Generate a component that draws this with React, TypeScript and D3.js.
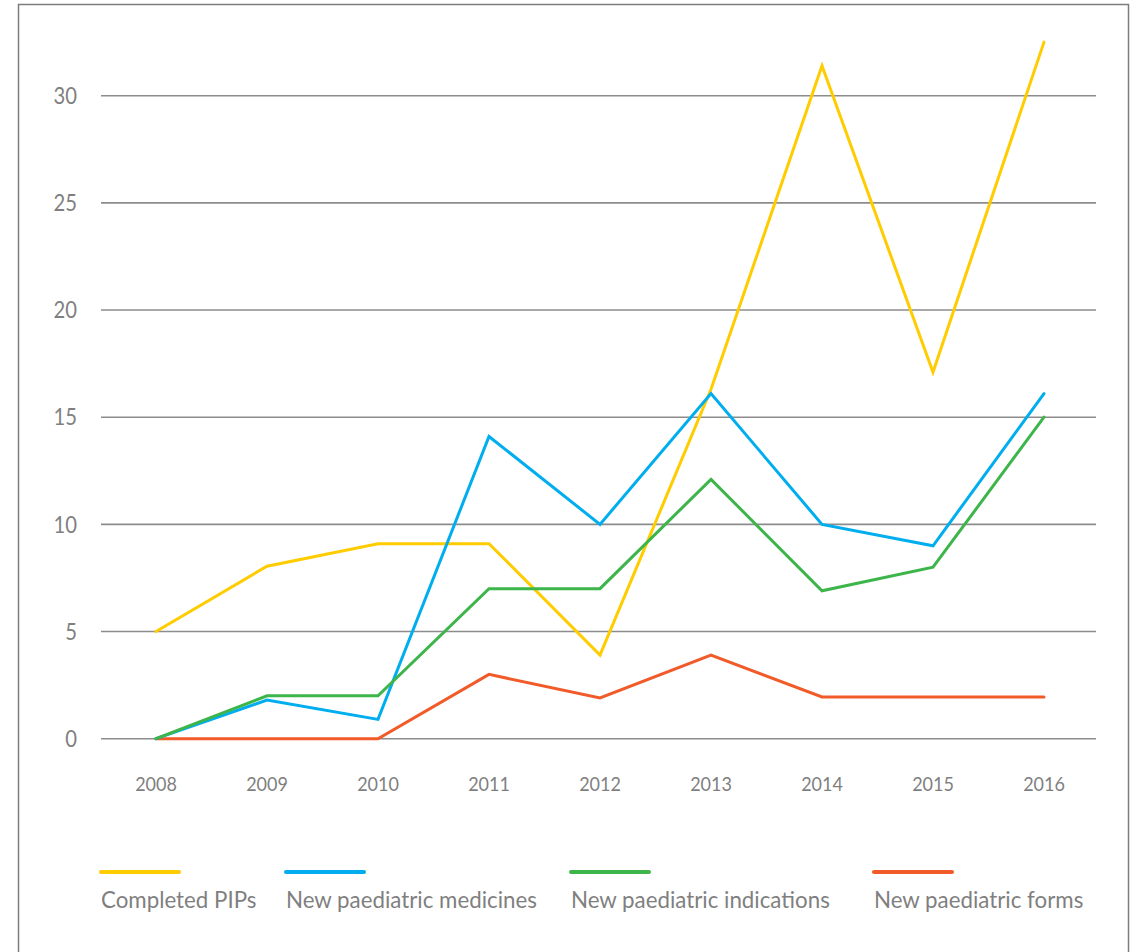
import React, { useRef, useEffect } from 'react';
import * as d3 from 'd3';

const years = ['2008', '2009', '2010', '2011', '2012', '2013', '2014', '2015', '2016'];
const yTicks = [0, 5, 10, 15, 20, 25, 30];

const completedPips = [5, 8.05, 9.1, 9.1, 3.9, 16.3, 31.4, 17.1, 32.5];
const newMedicines = [0, 1.8, 0.9, 14.1, 10, 16.1, 10, 9, 16.1];
const newIndications = [0, 2, 2, 7, 7, 12.1, 6.9, 8, 15];
const newForms = [0, 0, 0, 3, 1.9, 3.9, 1.95, 1.95, 1.95];

const seriesNames = ['Completed PIPs', 'New paediatric medicines', 'New paediatric indications', 'New paediatric forms'];
const seriesColors = ['#ffcc00', '#00aeef', '#3db54a', '#f15a29'];

const W = 1134;
const H = 952;
const FONT = 'Lato, "Open Sans", sans-serif';
const TEXT_COLOR = '#7f7f7f';

const App: React.FC = () => {
  const ref = useRef<SVGSVGElement>(null);

  useEffect(() => {
    document.body.style.margin = '0';
    if (!ref.current) return;
    const svg = d3.select(ref.current);
    svg.selectAll('*').remove();

    // outer frame
    svg.append('rect')
      .attr('x', 18.5).attr('y', 4.5)
      .attr('width', 1110).attr('height', 1000)
      .attr('fill', 'none')
      .attr('stroke', '#7d7d7d')
      .attr('stroke-width', 1.5);

    const x = d3.scalePoint<string>().domain(years).range([156, 1044]);
    const y = d3.scaleLinear().domain([0, 30]).range([738.7, 95.7]);

    // grid lines
    svg.append('g')
      .selectAll('line')
      .data(yTicks)
      .enter()
      .append('line')
      .attr('x1', 101).attr('x2', 1096)
      .attr('y1', d => y(d)).attr('y2', d => y(d))
      .attr('stroke', '#8c8c8c')
      .attr('stroke-width', 1.6);

    // y labels (slightly condensed to mimic the original face)
    svg.append('g')
      .selectAll('text')
      .data(yTicks)
      .enter()
      .append('text')
      .attr('transform', d => `translate(77,${y(d)}) scale(0.88,1)`)
      .attr('dy', '0.36em')
      .attr('text-anchor', 'end')
      .style('font-family', FONT)
      .style('font-size', '23px')
      .style('fill', TEXT_COLOR)
      .text(d => d);

    // x labels
    svg.append('g')
      .selectAll('text')
      .data(years)
      .enter()
      .append('text')
      .attr('transform', d => `translate(${x(d) || 0},791) scale(0.9,1)`)
      .attr('text-anchor', 'middle')
      .style('font-family', FONT)
      .style('font-size', '20px')
      .style('fill', TEXT_COLOR)
      .text(d => d);

    const line = d3.line<number>()
      .x((_, i) => x(years[i]) || 0)
      .y(d => y(d));

    const allSeries = [completedPips, newMedicines, newIndications, newForms];
    const drawOrder = [3, 0, 1, 2];
    drawOrder.forEach(k => {
      svg.append('path')
        .datum(allSeries[k])
        .attr('d', line)
        .attr('fill', 'none')
        .attr('stroke', seriesColors[k])
        .attr('stroke-width', 3)
        .attr('stroke-linejoin', 'miter')
        .attr('stroke-linecap', 'round');
    });

    // legend
    const legendX = [101, 286, 571, 874];
    const legend = svg.append('g');
    seriesNames.forEach((name, i) => {
      legend.append('line')
        .attr('x1', legendX[i]).attr('x2', legendX[i] + 78)
        .attr('y1', 872).attr('y2', 872)
        .attr('stroke', seriesColors[i])
        .attr('stroke-width', 4)
        .attr('stroke-linecap', 'round');
      legend.append('text')
        .attr('transform', `translate(${legendX[i]},908) scale(0.93,1)`)
        .style('font-family', FONT)
        .style('font-size', '24px')
        .style('fill', TEXT_COLOR)
        .text(name);
    });
  }, []);

  return <svg ref={ref} width={W} height={H} style={{ display: 'block' }}></svg>;
};

export default App;
